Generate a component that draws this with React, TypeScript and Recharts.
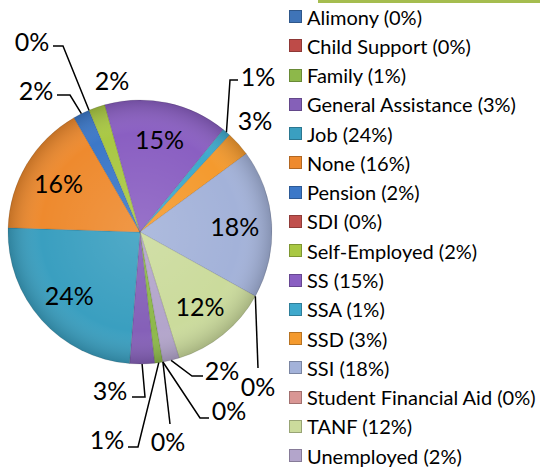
import { PieChart, Pie, Cell, Legend } from 'recharts';

const categories = [
  'Alimony', 'Child Support', 'Family', 'General Assistance', 'Job', 'None', 'Pension', 'SDI',
  'Self-Employed', 'SS', 'SSA', 'SSD', 'SSI', 'Student Financial Aid', 'TANF', 'Unemployed',
];
const shares = [0, 0, 1, 3, 24, 16, 2, 0, 2, 15, 1, 3, 18, 0, 12, 2];
const colors = [
  '#3F74B8', '#BE4B48', '#8DB84A', '#8560B8', '#3A9FC0', '#EE8A2E', '#3C78C8', '#C0504D',
  '#A9C843', '#8A5FC2', '#3FA9CC', '#F49A2E', '#A3B2D9', '#D99694', '#CBDB9C', '#B3A5CB',
];

const data = categories.map((name, i) => ({ name, value: shares[i] }));

const CX = 140;
const CY = 232;
const R = 132;
const RAD = Math.PI / 180;
const LABEL_SIZE = 25;

// label placement relative to pie centre; leader points end at the slice edge
type Place =
  | { kind: 'in' }
  | { kind: 'fixed'; tx: number; ty: number }
  | { kind: 'lead'; tx: number; ty: number; pts: [number, number][] };

const labelPlace: Record<string, Place> = {
  Alimony: { kind: 'lead', tx: 89, ty: 178, pts: [[69, 186], [60, 186]] },
  'Child Support': { kind: 'lead', tx: 28, ty: 209, pts: [[30, 192]] },
  Family: { kind: 'lead', tx: -33, ty: 207, pts: [[-12, 215], [-2, 215]] },
  'General Assistance': { kind: 'lead', tx: -30, ty: 158, pts: [[-8, 165], [5, 165]] },
  Job: { kind: 'in' },
  None: { kind: 'in' },
  Pension: { kind: 'lead', tx: -104, ty: -142, pts: [[-83, -137], [-70, -137]] },
  SDI: { kind: 'lead', tx: -108, ty: -191, pts: [[-87, -186], [-77, -186]] },
  'Self-Employed': { kind: 'fixed', tx: -28, ty: -152 },
  SS: { kind: 'in' },
  SSA: { kind: 'lead', tx: 118, ty: -156, pts: [[98, -152], [90, -152]] },
  SSD: { kind: 'fixed', tx: 115, ty: -112 },
  SSI: { kind: 'in' },
  'Student Financial Aid': { kind: 'lead', tx: 118, ty: 154, pts: [[118, 136]] },
  TANF: { kind: 'in' },
  Unemployed: { kind: 'lead', tx: 82, ty: 138, pts: [[63, 144], [52, 144]] },
};

function renderLabel(props: any) {
  const { cx, cy, midAngle, outerRadius, name, value } = props;
  const place = labelPlace[name];
  const text = `${value}%`;
  const polar = (r: number) => [cx + r * Math.cos(-midAngle * RAD), cy + r * Math.sin(-midAngle * RAD)];
  if (!place) return null;
  if (place.kind === 'in') {
    const [x, y] = polar(outerRadius * 0.72);
    return (
      <text x={x} y={y} textAnchor="middle" dominantBaseline="central" fontSize={LABEL_SIZE} fill="#000">
        {text}
      </text>
    );
  }
  const label = (
    <text x={cx + place.tx} y={cy + place.ty} textAnchor="middle" dominantBaseline="central" fontSize={LABEL_SIZE} fill="#000">
      {text}
    </text>
  );
  if (place.kind === 'fixed') return label;
  const [ex, ey] = polar(outerRadius);
  const pts = place.pts.map(([px, py]) => `${cx + px},${cy + py}`).concat(`${ex},${ey}`).join(' ');
  return (
    <g>
      <polyline points={pts} fill="none" stroke="#000" strokeWidth={1.5} />
      {label}
    </g>
  );
}

function renderLegend() {
  return (
    <div>
      {categories.map((c, i) => (
        <div key={c} style={{ height: 29.27, display: 'flex', alignItems: 'center', fontSize: 20, color: '#000', whiteSpace: 'nowrap' }}>
          <span
            style={{
              display: 'inline-block',
              width: 13,
              height: 13,
              marginRight: 5,
              background: colors[i],
              boxShadow: 'inset 0 0 0 1px rgba(0,0,0,0.25)',
            }}
          />
          <span>{`${c} (${shares[i]}%)`}</span>
        </div>
      ))}
    </div>
  );
}

export default function App() {
  return (
    <div style={{ position: 'absolute', left: 0, top: 0, width: 540, height: 476, background: '#fff', fontFamily: 'Lato, sans-serif' }}>
      <div style={{ position: 'absolute', left: 318, top: 0, width: 222, height: 3, background: '#A5BD4F' }} />
      <PieChart width={540} height={476} margin={{ top: 0, right: 0, bottom: 0, left: 0 }}>
        <defs>
          <radialGradient id="shine" gradientUnits="userSpaceOnUse" cx={CX} cy={CY} r={R}>
            <stop offset="0%" stopColor="#fff" stopOpacity={0.12} />
            <stop offset="75%" stopColor="#fff" stopOpacity={0} />
            <stop offset="100%" stopColor="#000" stopOpacity={0.18} />
          </radialGradient>
        </defs>
        <Pie
          data={data}
          dataKey="value"
          nameKey="name"
          cx={CX}
          cy={CY}
          outerRadius={R}
          startAngle={-80}
          endAngle={-440}
          label={renderLabel}
          labelLine={false}
          stroke="rgba(0,0,0,0.12)"
          strokeWidth={1}
          isAnimationActive={false}
        >
          {data.map((d, i) => (
            <Cell key={d.name} fill={colors[i]} />
          ))}
        </Pie>
        <Pie
          data={data}
          dataKey="value"
          nameKey="name"
          cx={CX}
          cy={CY}
          outerRadius={R}
          startAngle={-80}
          endAngle={-440}
          fill="url(#shine)"
          stroke="none"
          legendType="none"
          isAnimationActive={false}
        />
        <Legend
          layout="vertical"
          align="right"
          verticalAlign="top"
          content={renderLegend}
          wrapperStyle={{ left: 289, top: 2, width: 251 }}
        />
      </PieChart>
    </div>
  );
}
